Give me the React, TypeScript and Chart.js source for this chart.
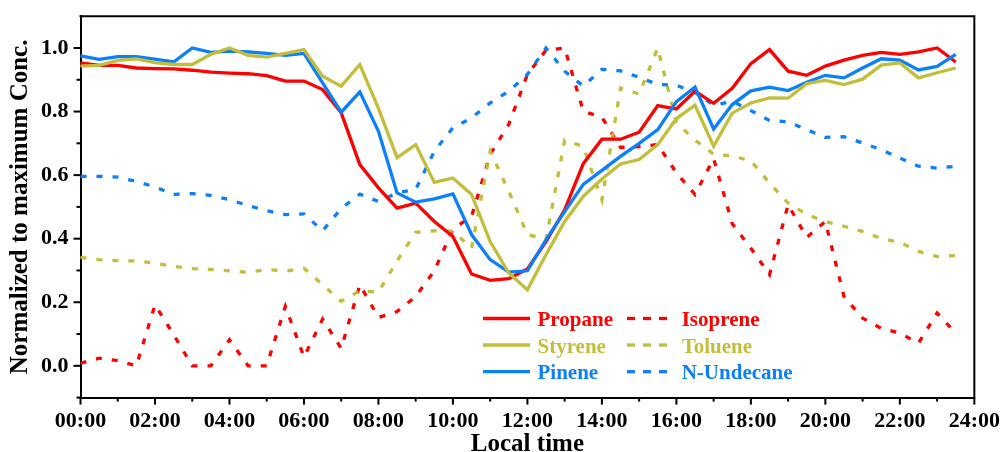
import React, { useEffect, useRef } from "react";
import { Chart, registerables } from "chart.js";

Chart.register(...registerables);

// ---------- data ----------
const times = [
  "00:00", "00:30", "01:00", "01:30", "02:00", "02:30", "03:00", "03:30",
  "04:00", "04:30", "05:00", "05:30", "06:00", "06:30", "07:00", "07:30",
  "08:00", "08:30", "09:00", "09:30", "10:00", "10:30", "11:00", "11:30",
  "12:00", "12:30", "13:00", "13:30", "14:00", "14:30", "15:00", "15:30",
  "16:00", "16:30", "17:00", "17:30", "18:00", "18:30", "19:00", "19:30",
  "20:00", "20:30", "21:00", "21:30", "22:00", "22:30", "23:00", "23:30",
  "24:00",
];

const propane = [
  0.953, 0.945, 0.945, 0.937, 0.935, 0.934, 0.930, 0.924, 0.921, 0.919, 0.913, 0.896,
  0.896, 0.869, 0.796, 0.633, 0.56, 0.496, 0.512, 0.454, 0.407, 0.289, 0.269, 0.274,
  0.305, 0.391, 0.491, 0.636, 0.713, 0.713, 0.735, 0.819, 0.808, 0.864, 0.826, 0.873,
  0.951, 0.995, 0.927, 0.914, 0.943, 0.962, 0.977, 0.986, 0.98, 0.988, 1.0, 0.956,
];

const styrene = [
  0.943, 0.945, 0.961, 0.966, 0.954, 0.948, 0.948, 0.98, 1.0, 0.977, 0.971, 0.983,
  0.995, 0.911, 0.88, 0.948, 0.81, 0.655, 0.696, 0.577, 0.591, 0.539, 0.391, 0.292,
  0.239, 0.35, 0.454, 0.533, 0.588, 0.635, 0.649, 0.696, 0.778, 0.82, 0.691, 0.795,
  0.827, 0.843, 0.842, 0.888, 0.898, 0.885, 0.902, 0.946, 0.953, 0.906, 0.922, 0.937,
];

const pinene = [
  0.975, 0.964, 0.973, 0.973, 0.965, 0.956, 1.0, 0.986, 0.99, 0.988, 0.983, 0.977,
  0.983, 0.89, 0.798, 0.862, 0.738, 0.544, 0.515, 0.525, 0.541, 0.413, 0.334, 0.295,
  0.299, 0.397, 0.485, 0.571, 0.615, 0.659, 0.70, 0.743, 0.831, 0.877, 0.745, 0.822,
  0.865, 0.877, 0.866, 0.892, 0.914, 0.906, 0.937, 0.966, 0.962, 0.931, 0.942, 0.98,
];

const isoprene = [
  0.008, 0.024, 0.016, 0.0, 0.192, 0.098, 0.0, 0.0, 0.082, 0.0, 0.0, 0.187,
  0.028, 0.147, 0.055, 0.255, 0.152, 0.171, 0.218, 0.299, 0.43, 0.47, 0.665, 0.76,
  0.917, 0.993, 1.0, 0.801, 0.782, 0.687, 0.69, 0.696, 0.607, 0.539, 0.652, 0.447,
  0.37, 0.287, 0.507, 0.404, 0.454, 0.218, 0.15, 0.118, 0.103, 0.071, 0.166, 0.103,
];

const toluene = [
  0.341, 0.334, 0.331, 0.33, 0.323, 0.313, 0.306, 0.303, 0.299, 0.294, 0.303, 0.298,
  0.307, 0.255, 0.203, 0.236, 0.232, 0.33, 0.42, 0.425, 0.424, 0.37, 0.675, 0.549,
  0.413, 0.398, 0.71, 0.69, 0.522, 0.874, 0.855, 1.0, 0.765, 0.71, 0.666, 0.66,
  0.645, 0.575, 0.512, 0.476, 0.454, 0.439, 0.423, 0.4, 0.389, 0.36, 0.344, 0.347,
];

const undecane = [
  0.596, 0.596, 0.594, 0.58, 0.563, 0.539, 0.542, 0.536, 0.523, 0.504, 0.488, 0.476,
  0.478, 0.425, 0.495, 0.54, 0.517, 0.544, 0.555, 0.675, 0.749, 0.78, 0.827, 0.864,
  0.917, 1.0, 0.927, 0.88, 0.933, 0.928, 0.908, 0.885, 0.883, 0.86, 0.82, 0.832,
  0.803, 0.772, 0.768, 0.743, 0.719, 0.721, 0.701, 0.68, 0.654, 0.628, 0.622, 0.628,
];

const yTickValues = [0, 0.2, 0.4, 0.6, 0.8, 1.0];
const yMinorTicks = [-0.1, 0.1, 0.3, 0.5, 0.7, 0.9];
const xMajorLabels = [
  "00:00", "02:00", "04:00", "06:00", "08:00", "10:00", "12:00",
  "14:00", "16:00", "18:00", "20:00", "22:00", "24:00",
];
const xMinorLabels = [
  "01:00", "03:00", "05:00", "07:00", "09:00", "11:00",
  "13:00", "15:00", "17:00", "19:00", "21:00", "23:00",
];

// ---------- styles ----------
const RED = "#ff0000";
const OLIVE = "#c3be3a";
const BLUE = "#0b80fa";
const FONT = '"Liberation Serif", "Times New Roman", serif';
const SOLID_W = 3.3;
const DASH = [6, 10];

const decorPlugin = {
  id: "decor",
  afterDraw(chart: any) {
    const { ctx, chartArea: a, scales } = chart;
    const xs = scales.x;
    const ys = scales.y;
    ctx.save();
    ctx.strokeStyle = "#000";
    ctx.lineWidth = 2;
    ctx.lineCap = "butt";
    // frame top + right
    ctx.beginPath();
    ctx.moveTo(a.left - 1, a.top);
    ctx.lineTo(a.right, a.top);
    ctx.lineTo(a.right, a.bottom + 1);
    ctx.stroke();

    const seg = (x1: number, y1: number, x2: number, y2: number) => {
      ctx.beginPath();
      ctx.moveTo(x1, y1);
      ctx.lineTo(x2, y2);
      ctx.stroke();
    };
    yTickValues.forEach((v) => {
      const py = ys.getPixelForValue(v);
      seg(a.left - 7, py, a.left, py);
    });
    yMinorTicks.forEach((v) => {
      const py = ys.getPixelForValue(v);
      seg(a.left - 4, py, a.left, py);
    });
    xMajorLabels.forEach((l) => {
      const px = xs.getPixelForValue(times.indexOf(l));
      seg(px, a.bottom, px, a.bottom + 7);
    });
    xMinorLabels.forEach((l) => {
      const px = xs.getPixelForValue(times.indexOf(l));
      seg(px, a.bottom, px, a.bottom + 4);
    });

    // legend (2 columns x 3 rows)
    const rowsY = [318.5, 345, 371.7];
    const cols = [
      { x0: 483, x1: 530, tx: 537.5 },
      { x0: 627, x1: 667, tx: 681.7 },
    ];
    ctx.font = `bold 21px ${FONT}`;
    ctx.textBaseline = "alphabetic";
    ctx.textAlign = "left";
    chart.data.datasets.forEach((ds: any, i: number) => {
      const row = Math.floor(i / 2);
      const c = cols[i % 2];
      const y = rowsY[row] + 2; // canvas is shifted up by 2px
      ctx.strokeStyle = ds.borderColor;
      ctx.lineWidth = SOLID_W;
      ctx.setLineDash(ds.borderDash && ds.borderDash.length ? [8, 8] : []);
      seg(c.x0, y, c.x1, y);
      ctx.setLineDash([]);
      ctx.fillStyle = ds.borderColor;
      ctx.fillText(ds.label, c.tx, y + 7.5);
    });
    ctx.restore();
  },
};

export default function App() {
  const ref = useRef<HTMLCanvasElement | null>(null);

  useEffect(() => {
    if (!ref.current) return;
    const mk = (label: string, data: number[], color: string, dashed: boolean, order: number) => ({
      label,
      data,
      borderColor: color,
      backgroundColor: color,
      borderWidth: SOLID_W,
      borderDash: dashed ? DASH : [],
      pointRadius: 0,
      pointHoverRadius: 0,
      tension: 0,
      fill: false,
      order,
    });
    const chart = new Chart(ref.current, {
      type: "line",
      data: {
        labels: times,
        datasets: [
          mk("Propane", propane, RED, false, 3),
          mk("Isoprene", isoprene, RED, true, 6),
          mk("Styrene", styrene, OLIVE, false, 1),
          mk("Toluene", toluene, OLIVE, true, 5),
          mk("Pinene", pinene, BLUE, false, 2),
          mk("N-Undecane", undecane, BLUE, true, 4),
        ],
      },
      options: {
        responsive: false,
        animation: false,
        events: [],
        layout: { padding: { left: 1, top: 13, right: 0, bottom: 0 } },
        plugins: {
          legend: { display: false },
          tooltip: { enabled: false },
        },
        scales: {
          x: {
            type: "category",
            offset: false,
            grid: { drawOnChartArea: false, drawTicks: true, tickLength: 7, color: "rgba(0,0,0,0)" },
            border: { display: true, color: "#000", width: 2 },
            ticks: {
              autoSkip: false,
              maxRotation: 0,
              minRotation: 0,
              padding: 4,
              color: "#000",
              font: { family: FONT, size: 22, weight: "bold" },
              callback: (_v: any, idx: number) => (xMajorLabels.includes(times[idx]) ? times[idx] : ""),
            },
            title: {
              display: true,
              text: "Local time",
              color: "#000",
              font: { family: FONT, size: 25, weight: "bold" },
              padding: { top: -9, bottom: 16 },
            },
          },
          y: {
            type: "linear",
            min: -0.1,
            max: 1.1,
            afterBuildTicks: (scale: any) => {
              scale.ticks = yTickValues.map((value) => ({ value }));
            },
            grid: { drawOnChartArea: false, drawTicks: true, tickLength: 7, color: "rgba(0,0,0,0)" },
            border: { display: true, color: "#000", width: 2 },
            ticks: {
              padding: 5,
              color: "#000",
              font: { family: FONT, size: 22, weight: "bold" },
              callback: (v: any) => Number(v).toFixed(1),
            },
            title: {
              display: true,
              text: "Normalized to maximum Conc.",
              color: "#000",
              font: { family: FONT, size: 25, weight: "bold" },
              padding: { top: 5, bottom: 0 },
            },
          },
        },
      } as any,
      plugins: [decorPlugin],
    });
    return () => chart.destroy();
  }, []);

  return (
    <div
      style={{
        position: "fixed",
        left: 0,
        top: 0,
        width: 1000,
        height: 452,
        overflow: "hidden",
        background: "#fff",
      }}
    >
      <canvas
        ref={ref}
        width={1004}
        height={478}
        style={{ display: "block", width: 1004, height: 478, marginTop: -2 }}
      />
    </div>
  );
}
